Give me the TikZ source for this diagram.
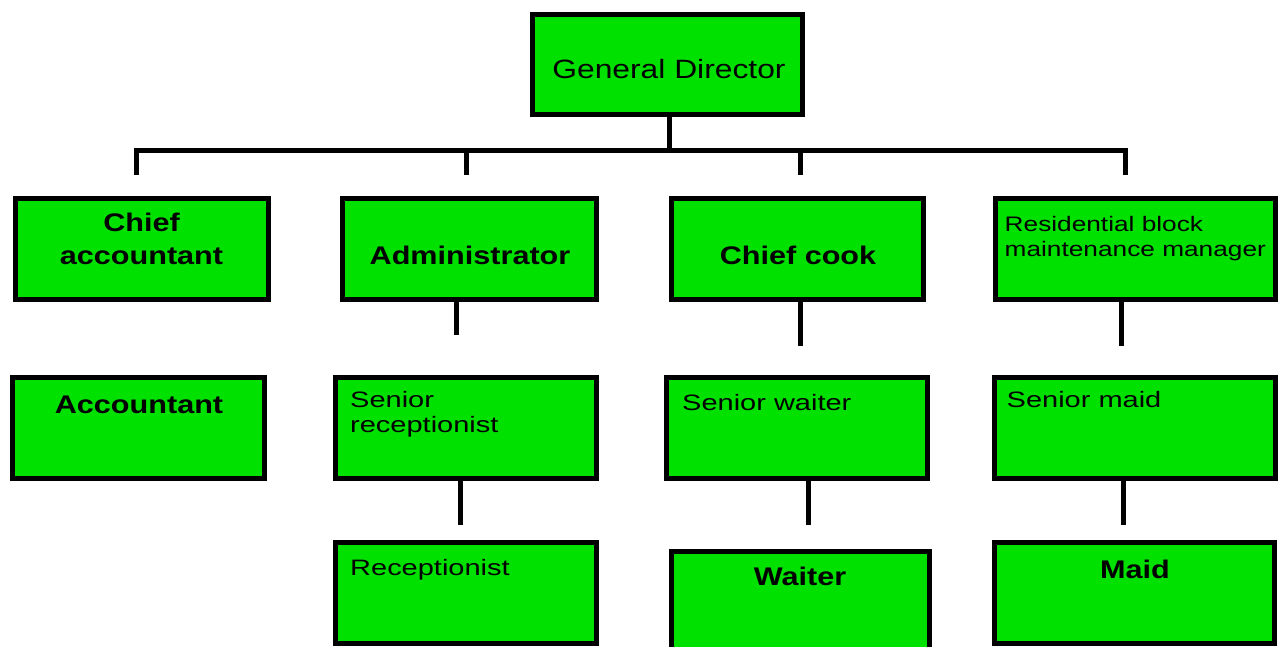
\documentclass[tikz,border=0pt]{standalone}
\usepackage{fontspec}
\setmainfont{Liberation Sans}
\newfontfamily\fbig{Liberation Sans}[FakeStretch=1.2]
\newfontfamily\fsm{Liberation Sans}[FakeStretch=1.3]
\newfontfamily\fres{Liberation Sans}[FakeStretch=1.25]
\definecolor{boxgreen}{RGB}{0,225,0}
\begin{document}
\begin{tikzpicture}[x=1pt,y=-1pt,
  box/.style={draw=black, fill=boxgreen, line width=5pt, inner sep=0pt, minimum height=101pt},
  conn/.style={draw=black, line width=5pt},
  gdtext/.style={font=\fbig\fontsize{26.5}{30}\selectfont, inner sep=0pt},
  boldtext/.style={font=\fbig\bfseries\fontsize{25.5}{33}\selectfont, inner sep=0pt},
  regtext/.style={font=\fsm\fontsize{22.3}{25}\selectfont, inner sep=0pt},
  restext/.style={font=\fres\fontsize{21}{25}\selectfont, inner sep=0pt}]
\useasboundingbox (0,0) rectangle (1280,647);
% boxes
\node[box, minimum width=270pt, minimum height=100pt] (gd) at (667.5,64.5) {};
\node[box, minimum width=253pt] (ca) at (141.8,249) {};
\node[box, minimum width=254pt] (adm) at (469.5,249) {};
\node[box, minimum width=252pt] (cc) at (797,249) {};
\node[box, minimum width=279.5pt] (res) at (1135.7,249) {};
\node[box, minimum width=252pt] (acc) at (138.5,428) {};
\node[box, minimum width=261pt] (sr) at (466,428) {};
\node[box, minimum width=260.5pt] (sw) at (797.2,428) {};
\node[box, minimum width=281pt] (sm) at (1135,428) {};
\node[box, minimum width=261pt] (rec) at (466,593) {};
\node[box, minimum width=258pt] (wai) at (800.3,602) {};
\node[box, minimum width=280pt] (maid) at (1134.5,593) {};
% connector coordinates
\coordinate (tr) at (669,150.5);
\coordinate (bar) at (0,150.5);
\coordinate (b1) at (136,175);
\coordinate (b2) at (466.5,175);
\coordinate (b3) at (800,175);
\coordinate (b4) at (1125,175);
\coordinate (a1) at (456,335);
\coordinate (c1) at (800,346);
\coordinate (r1) at (1121,346);
\coordinate (s1) at (460,525);
\coordinate (w1) at (808.5,525);
\coordinate (m1) at (1123,525);
% connectors
\draw[conn] (tr |- gd.south) -- (tr);
\draw[conn] (b1) -- (b1 |- bar) -- (b4 |- bar) -- (b4);
\draw[conn] (b2 |- bar) -- (b2);
\draw[conn] (b3 |- bar) -- (b3);
\draw[conn] (a1 |- adm.south) -- (a1);
\draw[conn] (c1 |- cc.south) -- (c1);
\draw[conn] (r1 |- res.south) -- (r1);
\draw[conn] (s1 |- sr.south) -- (s1);
\draw[conn] (w1 |- sw.south) -- (w1);
\draw[conn] (m1 |- sm.south) -- (m1);
% texts
\node[gdtext, anchor=base] (tgd) at (669,79) {General Director};
\node[boldtext, anchor=base] (tca) at (141.5,232) {\begin{tabular}[t]{@{}c@{}}Chief\\accountant\end{tabular}};
\node[boldtext, anchor=base] (tadm) at (470,265) {Administrator};
\node[boldtext, anchor=base] (tcc) at (798,265) {Chief cook};
\node[restext, anchor=base west] (tres) at (1004.5,232) {\begin{tabular}[t]{@{}l@{}}Residential block\\maintenance manager\end{tabular}};
\node[boldtext, anchor=base] (tacc) at (139,413) {Accountant};
\node[regtext, anchor=base west] (tsr) at (350,407) {\begin{tabular}[t]{@{}l@{}}Senior\\receptionist\end{tabular}};
\node[regtext, anchor=base west] (trec) at (350,575) {Receptionist};
\node[regtext, anchor=base west] (tsw) at (682,410) {Senior waiter};
\node[boldtext, anchor=base] (twai) at (800,585) {Waiter};
\node[regtext, anchor=base west] (tsm) at (1006.5,407) {Senior maid};
\node[boldtext, anchor=base] (tmaid) at (1135,578) {Maid};
\end{tikzpicture}
\end{document}
